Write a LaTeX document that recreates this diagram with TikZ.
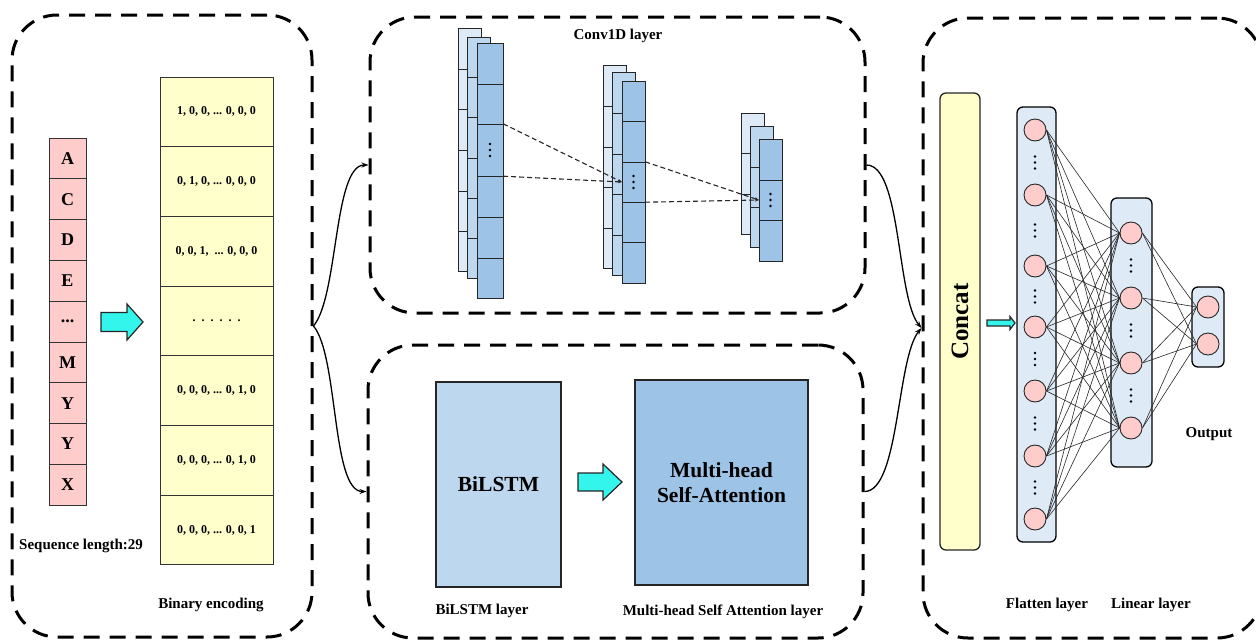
\documentclass[tikz,border=0pt]{standalone}
\usepackage{tikz}
\usepackage{fontspec}
\setmainfont{Liberation Serif}
\usetikzlibrary{arrows.meta,calc}
\definecolor{pinkc}{HTML}{FFCCCC}
\definecolor{yelc}{HTML}{FFFFCC}
\definecolor{cyanc}{HTML}{33F5EC}
\definecolor{blA}{HTML}{DEEBF7}
\definecolor{blB}{HTML}{BDD7EE}
\definecolor{blC}{HTML}{9DC3E6}
\newcommand{\fatarr}[6]{%
 \filldraw[fill=cyanc, draw=black!85, line width=1.2, line join=miter]
 (#1,{#2-#4}) -- ({#1+#3-#6},{#2-#4}) -- ({#1+#3-#6},{#2-#5}) -- ({#1+#3},#2)
 -- ({#1+#3-#6},{#2+#5}) -- ({#1+#3-#6},{#2+#4}) -- (#1,{#2+#4}) -- cycle;}
\newcommand{\convcol}[6]{%
 \draw[convline, fill=#5] (#1,#2) rectangle (#3,#4);
 \foreach \yy in {#6} {\draw[convline] (#1,\yy) -- (#3,\yy);}}
\begin{document}
\begin{tikzpicture}[x=1pt,y=-1pt,
  panel/.style={draw, line width=3, dash pattern=on 16pt off 10pt, rounded corners=45, inner sep=0},
  lab/.style={font=\fontsize{15}{18}\selectfont\bfseries, inner sep=0},
  seqcell/.style={draw=black!80, line width=1, fill=pinkc, minimum width=37, minimum height=40.8, inner sep=0, font=\fontsize{18}{20}\selectfont\bfseries},
  bincell/.style={draw=black!80, line width=1, fill=yelc, minimum width=113, minimum height=69.7, inner sep=0, font=\fontsize{12}{14}\selectfont\bfseries},
  convline/.style={draw=black!85, line width=1},
  conn/.style={black, line width=1.3, -{Stealth[length=7pt,width=5pt]}},
  dconn/.style={black!85, line width=1.1, dash pattern=on 5pt off 3pt, -{Stealth[length=4pt,width=3pt]}},
  nnbox/.style={draw, line width=1.3, fill=blA, rounded corners=6, inner sep=0},
  neuron/.style={circle, draw=black!85, line width=0.9, fill=pinkc, minimum size=22, inner sep=0},
  nnline/.style={black!85, line width=0.6},
  tridots/.pic={\fill (0,-6) circle (1.3); \fill (0,0) circle (1.3); \fill (0,6) circle (1.3);}
]
\useasboundingbox (0,0) rectangle (1256,641);

% panels
\node[panel, minimum width=300, minimum height=622] (P1) at (162,326) {};
\node[panel, minimum width=495, minimum height=296] (P2) at (617.5,165) {};
\node[panel, minimum width=495, minimum height=293] (P3) at (615.5,491.5) {};
\node[panel, minimum width=339, minimum height=620] (P4) at (1092.5,328) {};

% sequence column
\node[seqcell] (s1) at (67.5,158.4) {A};
\node[seqcell] (s2) at (67.5,199.2) {C};
\node[seqcell] (s3) at (67.5,240.0) {D};
\node[seqcell] (s4) at (67.5,280.8) {E};
\node[seqcell] (s5) at (67.5,321.6) {...};
\node[seqcell] (s6) at (67.5,362.4) {M};
\node[seqcell] (s7) at (67.5,403.2) {Y};
\node[seqcell] (s8) at (67.5,444.0) {Y};
\node[seqcell] (s9) at (67.5,484.8) {X};
\node[lab, anchor=west] (seqlab) at (19,546) {Sequence length:29};

% binary column
\node[bincell] (b1) at (216.5,111.85) {1, 0, 0, ... 0, 0, 0};
\node[bincell] (b2) at (216.5,181.55) {0, 1, 0, ... 0, 0, 0};
\node[bincell] (b3) at (216.5,251.25) {0, 0, 1,\ \ ... 0, 0, 0};
\node[bincell] (b4) at (216.5,320.95) {.\ \ .\ \ .\ \ .\ \ .\ \ .};
\node[bincell] (b5) at (216.5,390.65) {0, 0, 0, ... 0, 1, 0};
\node[bincell] (b6) at (216.5,460.35) {0, 0, 0, ... 0, 1, 0};
\node[bincell] (b7) at (216.5,530.05) {0, 0, 0, ... 0, 0, 1};
\node[lab] (binlab) at (211,605) {Binary encoding};

\fatarr{101}{322}{42}{9.5}{18}{16}

% conv stacks
\convcol{458}{28}{481}{271}{blA}{69,109,150,191,231}
\convcol{467}{37}{490}{278}{blB}{77,117,158,198,238}
\convcol{477}{43}{503}{298}{blC}{84,124,176,217,258}
\convcol{603}{65}{626}{268}{blA}{106,147,187,228}
\convcol{612}{72}{635}{275}{blB}{113,154,194,235}
\convcol{622}{81}{645}{283}{blC}{121,162,202,242}
\convcol{741}{113}{764}{234}{blA}{153,194}
\convcol{750}{126}{773}{247}{blB}{167,207}
\convcol{759}{139}{782}{261}{blC}{180,220}
\node[minimum width=26, minimum height=52, inner sep=0] (c1) at (490,150) {};
\node[minimum width=23, minimum height=40, inner sep=0] (c2) at (633.5,182) {};
\node[minimum width=23, minimum height=40, inner sep=0] (c3) at (770.5,200) {};
\pic at (c1) {tridots};
\pic at (c2) {tridots};
\pic at (c3) {tridots};
\draw[dconn] (c1.north east) -- (c2.west);
\draw[dconn] (c1.south east) -- (c2.west);
\draw[dconn] (c2.north east) -- (c3.west);
\draw[dconn] (c2.south east) -- (c3.west);
\node[lab] (convlab) at (618,36) {Conv1D layer};

% BiLSTM / attention
\node[draw=black!85, line width=1.5, fill=blB, minimum width=125, minimum height=205, inner sep=0,
  font=\fontsize{21.5}{25}\selectfont\bfseries] (bl) at (498.5,484.5) {BiLSTM};
\node[draw=black!85, line width=1.5, fill=blC, minimum width=173, minimum height=205, inner sep=0, align=center,
  font=\fontsize{21.5}{25}\selectfont\bfseries] (mh) at (721.5,482.5) {Multi-head\\Self-Attention};
\fatarr{578}{482}{44}{9}{18}{19}
\node[lab] (bllab) at (482,611) {BiLSTM layer};
\node[lab] (mhlab) at (723,612) {Multi-head Self Attention layer};

% connectors between panels
\draw[conn] (P1.east) .. controls +(25,-30) and +(-35,0) .. (P2.west);
\draw[conn] (P1.east) .. controls +(25,30) and +(-35,0) .. (P3.west);
\draw[conn] (P2.east) .. controls +(35,0) and +(-25,-30) .. (P4.west);
\draw[conn] (P3.east) .. controls +(35,0) and +(-25,30) .. (P4.west);

% right panel
\node[draw=black!85, line width=1.3, fill=yelc, rounded corners=6, minimum width=40, minimum height=457, inner sep=0] (cc) at (960,321.5) {};
\node[rotate=90, font=\fontsize{25}{28}\selectfont\bfseries, inner sep=0] (cctext) at (cc) {Concat};
\fatarr{987}{323}{28}{3}{6.5}{5}
\node[nnbox, minimum width=39, minimum height=435] (fb) at (1036.5,324.5) {};
\node[nnbox, minimum width=41, minimum height=269] (lb) at (1131.5,332.5) {};
\node[nnbox, minimum width=32, minimum height=80] (ob) at (1208,327) {};
\foreach \y [count=\i] in {130,195,266,327,391,456,519} {\node[neuron] (f\i) at (1035,\y) {};}
\foreach \y in {162.5,230.5,296.5,359,423.5,487.5} {\pic at (1035,\y) {tridots};}
\foreach \y [count=\i] in {233,298,363,428} {\node[neuron] (l\i) at (1131,\y) {};}
\foreach \y in {265.5,330.5,395.5} {\pic at (1131,\y) {tridots};}
\node[neuron] (o1) at (1208,307) {};
\node[neuron] (o2) at (1208,344) {};
\foreach \i in {1,...,7} {\foreach \j in {1,...,4} {\draw[nnline] (f\i.east) -- (l\j.west);}}
\foreach \j in {1,...,4} {\foreach \k in {1,2} {\draw[nnline] (l\j.east) -- (o\k.west);}}
\node[lab] (outlab) at (1209,434) {Output};
\node[lab] (flab) at (1047,605) {Flatten layer};
\node[lab] (llab) at (1151,605) {Linear layer};
\end{tikzpicture}
\end{document}
